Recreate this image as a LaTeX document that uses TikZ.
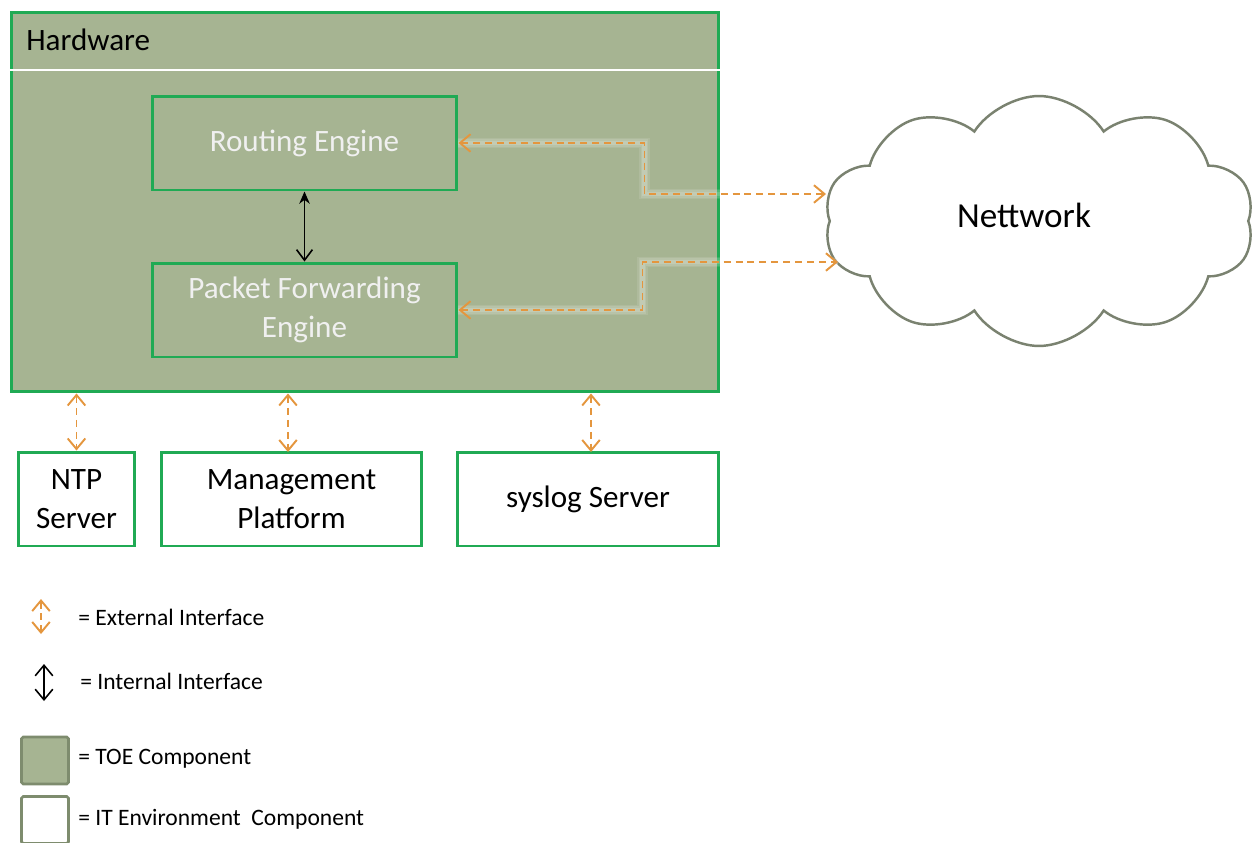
\documentclass[tikz,border=0pt]{standalone}
\usepackage{fontspec}
\setmainfont{Carlito}
\usetikzlibrary{arrows.meta, positioning, shapes.symbols}

\definecolor{toegreen}{RGB}{166,180,146}
\definecolor{boxline}{RGB}{32,170,84}
\definecolor{extorange}{RGB}{228,150,62}
\definecolor{cloudgray}{RGB}{122,130,112}
\definecolor{legendline}{RGB}{126,140,110}

\newcommand{\boxheight}{1.88cm}
\newcommand{\boxfont}{\fontsize{17.7}{22}\selectfont}
\newcommand{\legendfont}{\fontsize{13.4}{16}\selectfont}
\tikzstyle{toebox} = [% TOE component node
  rectangle,
  minimum height=\boxheight,
  text centered,
  align=center,
  draw=boxline,
  line width=1.7pt,
  fill=toegreen,
  text=white!94!black,
  font=\boxfont
  ]
\tikzstyle{itbox} = [% IT environment node
  rectangle,
  minimum height=\boxheight,
  text centered,
  align=center,
  draw=boxline,
  line width=1.7pt,
  fill=white,
  text=black,
  font=\boxfont
  ]
\tikzstyle{network} = [% cloud node
  cloud,
  cloud puffs=10,
  cloud puff arc=115,
  aspect=1.75,
  minimum width=8.6cm,
  minimum height=5cm,
  draw=cloudgray,
  line width=1.4pt,
  fill=white
  ]
\tikzstyle{legendtext} = [% legend label
  anchor=west,
  inner sep=0pt,
  font=\legendfont
  ]
\tikzstyle{legendbox} = [% legend square
  rectangle,
  rounded corners=1pt,
  minimum size=0.94cm,
  draw=legendline,
  line width=1.5pt
  ]
\tikzstyle{extarrow} = [% external interface
  extorange,
  line width=1.1pt,
  dash pattern=on 4pt off 2.8pt,
  {Straight Barb[length=6pt,width=10pt]}-{Straight Barb[length=6pt,width=10pt]}
  ]
\tikzstyle{glow} = [% soft halo
  preaction={draw=white, opacity=.1, line width=6pt, solid, -},
  preaction={draw=white, opacity=.12, line width=4pt, solid, -},
  preaction={draw=white, opacity=.15, line width=2.5pt, solid, -}
  ]
\tikzstyle{intarrow} = [% internal interface
  black,
  line width=0.9pt,
  {Stealth[length=7pt,width=6pt]}-{Straight Barb[length=6pt,width=9pt]}
  ]

\begin{document}
\begin{tikzpicture}[x=0.02cm, y=-0.02cm]
\useasboundingbox (0,0) rectangle (1254,842);

%%% Hardware
\node[toebox, minimum width=14.16cm, minimum height=7.6cm] (hw) at (365,202) {};
\draw[white, line width=0.8pt] (hw.west |- 0,70) -- (hw.east |- 0,70);
\node[anchor=west, inner sep=0pt, font=\boxfont] (hwlabel) at (26,40) {Hardware};

\node[toebox, minimum width=6.1cm] (re) at (304.5,143) {Routing Engine};
\node[toebox, minimum width=6.1cm] (pfe) at (304.5,310) {Packet Forwarding\\Engine};

%%% Network
\node[network, label={[font=\fontsize{20}{24}\selectfont, xshift=-0.3cm, yshift=0.12cm]center:Nettwork}] (net) at (1039,221) {};
\coordinate (netA) at (826,194);
\coordinate (netB) at (838,262);

%%% IT environment
\node[itbox, minimum width=2.34cm] (ntp) at (76.5,499) {NTP\\Server};
\node[itbox, minimum width=5.22cm] (mgmt) at (291.5,499) {Management\\Platform};
\node[itbox, minimum width=5.24cm] (syslog) at (588,499) {syslog Server};

%%% Interfaces
\draw[intarrow] (re.south) -- (pfe.north);
\draw[extarrow, glow] (re.east) -- ++(186,0) |- (netA);
\draw[extarrow, glow] (pfe.east) -- ++(184,0) |- (netB);
\draw[extarrow] (hw.south -| ntp.north) -- (ntp.north);
\draw[extarrow] (hw.south -| 288,0) -- (288,452);
\draw[extarrow] (hw.south -| 591,0) -- (591,452);

%%% Legend
\coordinate (extA) at (41,599);
\coordinate (extB) at (41,634);
\coordinate (intA) at (44,664);
\coordinate (intB) at (44,701);
\draw[extarrow] (extA) -- (extB);
\draw[black, line width=0.9pt, {Straight Barb[length=6pt,width=10pt]}-{Straight Barb[length=6pt,width=10pt]}] (intA) -- (intB);
\node[legendtext] (extlabel) at (78,617) {= External Interface};
\node[legendtext] (intlabel) at (80,681) {= Internal Interface};
\node[legendbox, fill=toegreen] (toesq) at (45,760.5) {};
\node[legendbox, fill=white] (itsq) at (45,820) {};
\node[legendtext] (toelabel) at (78,759) {= TOE Component};
\node[legendtext] (itlabel) at (78,819) {= IT Environment~ Component};

\end{tikzpicture}
\end{document}
